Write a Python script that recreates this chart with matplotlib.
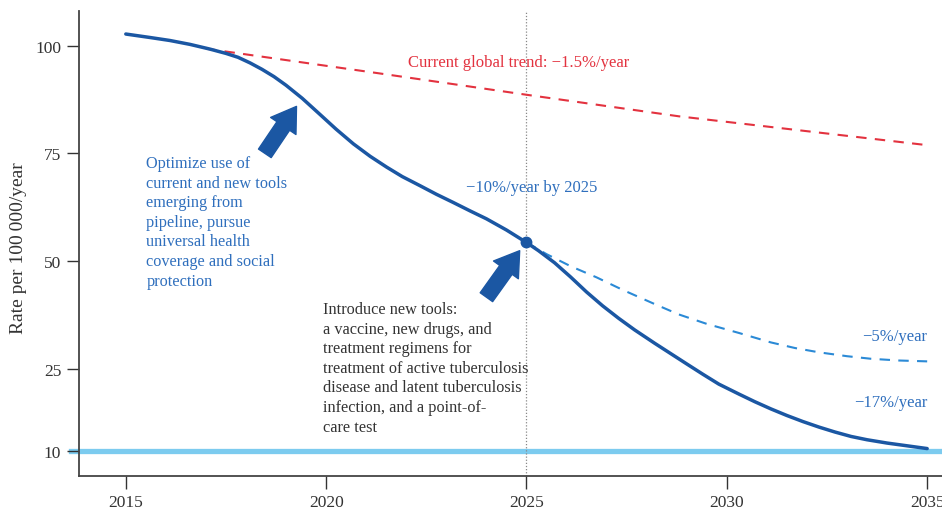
''' Tuberculosis incidence projections to 2035 under different intervention scenarios. '''
import numpy as np
import matplotlib
matplotlib.use('Agg')
import matplotlib.pyplot as plt

# main scenario: incidence rate per 100 000 per year
years = [2015.0, 2015.6, 2016.1, 2016.6, 2017.1, 2017.5, 2017.8, 2018.1, 2018.4,
         2018.7, 2019.0, 2019.4, 2019.85, 2020.25, 2020.68, 2021.1, 2021.51, 2021.9,
         2022.34, 2022.75, 2023.17, 2023.6, 2024.0, 2024.5, 2025.0, 2025.3, 2025.7,
         2026.1, 2026.5, 2026.9, 2027.3, 2027.7, 2028.2, 2028.6, 2029.0, 2029.4,
         2029.8, 2030.3, 2030.7, 2031.1, 2031.5, 2031.9, 2032.3, 2032.7, 2033.1,
         2033.5, 2034.0, 2034.5, 2035.0]
rate = [102.7, 101.9, 101.2, 100.3, 99.2, 98.2, 97.3, 96.0, 94.5,
        92.8, 90.8, 87.8, 84.0, 80.6, 77.2, 74.3, 71.8, 69.6,
        67.5, 65.5, 63.6, 61.6, 59.8, 57.2, 54.3, 52.4, 49.6,
        46.3, 42.8, 39.6, 36.7, 34.0, 30.9, 28.5, 26.1, 24.0,
        22.2, 20.4, 19.0, 17.7, 16.5, 15.4, 14.4, 13.5, 12.7,
        12.1, 11.5, 11.0, 10.5]

# slower decline after 2025 (-5%/year)
slow_years = [2025.0, 2025.5, 2026.1, 2026.75, 2027.4, 2028.2, 2028.8, 2029.5, 2030.3,
              2031.1, 2031.7, 2032.3, 2033.0, 2033.6, 2034.3, 2035.0]
slow_rate = [54.3, 51.6, 48.8, 46.2, 43.3, 40.0, 37.6, 35.4, 33.3,
             31.1, 29.8, 28.8, 27.9, 27.3, 26.9, 26.7]

# current global trend (-1.5%/year)
trend_years = [2017.0, 2021.3, 2025.0, 2028.8, 2035.0]
trend_rate = [99.3, 93.6, 88.6, 83.6, 76.9]

target = 10
milestone_year, milestone_rate = 2025, 54.3

xticks = [2015, 2020, 2025, 2030, 2035]
yticks = [10, 25, 50, 75, 100]

DARK_BLUE = '#1b57a3'
MID_BLUE = '#2b8ad6'
TEXT_BLUE = '#2f6fbd'
LIGHT_BLUE = '#7ccbef'
RED = '#e3323f'
GREY = '#333333'

# lower part of the axis (below 25) is drawn stretched in the original
K = 1.279
def fwd(y):
    y = np.asarray(y, dtype=float)
    return np.where(y >= 25, y, 25 - (25 - y) * K)

def inv(f):
    f = np.asarray(f, dtype=float)
    return np.where(f >= 25, f, 25 - (25 - f) / K)

plt.rcParams['font.family'] = ['Liberation Serif', 'DejaVu Serif']

fig = plt.figure(figsize=(9.42, 5.10), dpi=100)
ax = fig.add_axes([0.0842, 0.0647, 0.9158, 0.9118])
ax.set_yscale('function', functions=(fwd, inv))

ax.axhline(target, xmin=-0.0096, xmax=1.0, color=LIGHT_BLUE, linewidth=3.8,
           clip_on=False, zorder=1)
ax.axvline(milestone_year, color='#888888', linewidth=0.9, linestyle=(0, (1, 1.5)), zorder=1)

ax.plot(trend_years, trend_rate, color=RED, linewidth=1.5, linestyle=(0, (5, 4)), zorder=2)
ax.plot(slow_years, slow_rate, color=MID_BLUE, linewidth=1.5, linestyle=(0, (5, 4)), zorder=2)
ax.plot(years, rate, color=DARK_BLUE, linewidth=2.5, solid_capstyle='round',
        solid_joinstyle='round', zorder=3)
ax.plot([milestone_year], [milestone_rate], 'o', color=DARK_BLUE, markersize=7.5, zorder=4)

arrow = dict(arrowstyle='simple,head_length=1.7,head_width=2.2,tail_width=1.1',
             color=DARK_BLUE, mutation_scale=10, shrinkA=0, shrinkB=0)
ax.annotate('', xy=(2019.26, 85.9), xytext=(2018.47, 75.0), arrowprops=arrow)
ax.annotate('', xy=(2024.83, 52.4), xytext=(2024.0, 41.6), arrowprops=arrow)

fs = 12
fs_block = 11.7
ls = 1.3
ax.text(2022.05, 96.1, 'Current global trend: \u22121.5%/year', color=RED,
        fontsize=fs, va='center', ha='left')
ax.text(2015.51, 74.6, 'Optimize use of\ncurrent and new tools\nemerging from\n'
        'pipeline, pursue\nuniversal health\ncoverage and social\nprotection',
        color=TEXT_BLUE, fontsize=fs_block, va='top', ha='left', linespacing=ls)
ax.text(2023.5, 67.1, '\u221210%/year by 2025', color=TEXT_BLUE, fontsize=fs,
        va='center', ha='left')
ax.text(2019.91, 40.7, 'Introduce new tools:\na vaccine, new drugs, and\n'
        'treatment regimens for\ntreatment of active tuberculosis\n'
        'disease and latent tuberculosis\ninfection, and a point-of-\ncare test',
        color=GREY, fontsize=fs_block, va='top', ha='left', linespacing=ls)
ax.text(2035.0, 32.7, '\u22125%/year', color=TEXT_BLUE, fontsize=fs, va='center', ha='right')
ax.text(2035.0, 18.9, '\u221217%/year', color=TEXT_BLUE, fontsize=fs, va='center', ha='right')

ax.set_xlim(2013.84, 2035.37)
ax.set_ylim(5.52, 108.05)
ax.set_xticks(xticks)
ax.set_yticks(yticks)
ax.set_xticklabels([str(x) for x in xticks])
ax.set_yticklabels([str(y) for y in yticks])
ax.minorticks_off()
ax.tick_params(direction='out', length=9, width=1, color=GREY, labelcolor=GREY,
               labelsize=12.5, pad=4)
ax.set_ylabel('Rate per 100\u2009000/year', fontsize=14, color=GREY)
ax.yaxis.set_label_coords(-0.061, 0.492)

for side in ['top', 'right']:
    ax.spines[side].set_visible(False)
for side in ['left', 'bottom']:
    ax.spines[side].set_color('#444444')
    ax.spines[side].set_linewidth(1.3)

plt.savefig('out.png', dpi=100)
